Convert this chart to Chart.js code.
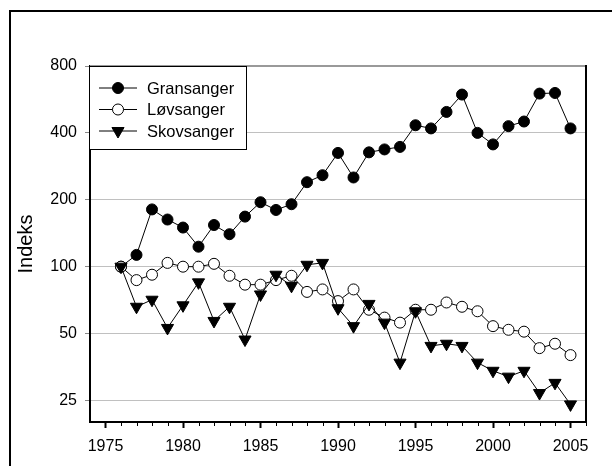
<!DOCTYPE html>
<html>
<head>
<meta charset="utf-8">
<script src="https://cdn.jsdelivr.net/npm/chart.js@4/dist/chart.umd.min.js"></script>
<style>
  html, body { margin: 0; padding: 0; background: #fff; }
  canvas { display: block; }
</style>
</head>
<body>
<canvas id="chart" width="612" height="466"></canvas>
<script>
const years = [1976, 1977, 1978, 1979, 1980, 1981, 1982, 1983, 1984, 1985,
               1986, 1987, 1988, 1989, 1990, 1991, 1992, 1993, 1994, 1995,
               1996, 1997, 1998, 1999, 2000, 2001, 2002, 2003, 2004, 2005];

const gransanger = [100, 113, 181, 163, 150, 123, 154, 140, 168, 195,
                    180, 191, 240, 258, 325, 252, 327, 337, 346, 433,
                    419, 497, 595, 400, 355, 429, 450, 601, 605, 419];

const lovsanger = [100, 87, 92, 104, 100, 100, 103, 91, 83, 83,
                   87, 91, 77, 79, 70, 79, 64, 59, 56, 64,
                   64, 69, 66, 63, 54, 52, 51, 43, 45, 40];

const skovsanger = [100, 66, 71, 53, 67, 85, 57, 66, 47, 75,
                    92, 82, 102, 104, 65, 54, 68, 56, 37, 63,
                    44, 45, 44, 37, 34, 32, 34, 27, 30, 24];

const xTicks = [1975, 1980, 1985, 1990, 1995, 2000, 2005];
const yTicks = [25, 50, 100, 200, 400, 800];

const FONT = "'Liberation Sans', Arial, sans-serif";

const toPoints = (vals) => vals.map((v, i) => ({ x: years[i], y: v }));

const series = (label, vals, style, order) => ({
    label,
    data: toPoints(vals),
    order,
    borderColor: "#000",
    borderWidth: 1,
    tension: 0,
    pointBorderColor: "#000",
    pointBorderWidth: 1,
    ...style
});

// frame, chart borders, minor ticks
const decor = {
    id: "decor",
    beforeDraw(chart) {
        const c = chart.ctx;
        c.save();
        c.fillStyle = "#fff";
        c.fillRect(0, 0, chart.width, chart.height);
        c.fillStyle = "#000";
        c.fillRect(9, 10, 2, chart.height - 10);
        c.fillRect(9, 10, chart.width - 9, 2);
        c.restore();
    },
    beforeDatasetsDraw(chart) {
        const c = chart.ctx;
        const a = chart.chartArea;
        c.save();
        c.fillStyle = "#999";
        c.fillRect(a.left, a.top - 1, a.right - a.left, 2);
        c.fillStyle = "#000";
        c.fillRect(a.right - 1, a.top - 1, 2, a.bottom - a.top + 2);

        // minor year ticks
        const xs = chart.scales.x;
        c.strokeStyle = "#000";
        c.lineWidth = 1;
        for (let yr = 1975; yr <= 2006; yr++) {
            if (yr % 5 === 0) continue;
            const px = Math.round(xs.getPixelForValue(yr)) + 0.5;
            c.beginPath();
            c.moveTo(px, a.bottom);
            c.lineTo(px, a.bottom + 4);
            c.stroke();
        }
        c.restore();
    },
    afterDraw(chart) {
        const c = chart.ctx;
        const bx = 89.5, by = 66.5, bw = 157, bh = 83;
        c.save();
        c.fillStyle = "#fff";
        c.fillRect(bx, by, bw, bh);
        c.strokeStyle = "#000";
        c.lineWidth = 1;
        c.strokeRect(bx, by, bw, bh);

        chart.data.datasets.forEach((ds, i) => {
            const y = 88 + i * 21.5;
            c.strokeStyle = "#000";
            c.lineWidth = 1;
            c.beginPath();
            c.moveTo(99, y);
            c.lineTo(137, y);
            c.stroke();

            c.fillStyle = ds.pointBackgroundColor;
            c.strokeStyle = "#000";
            Chart.helpers.drawPoint(c, {
                pointStyle: ds.pointStyle,
                radius: ds.pointRadius,
                rotation: ds.pointRotation || 0,
                borderWidth: 1
            }, 118, y);

            c.fillStyle = "#000";
            c.font = "16.5px " + FONT;
            c.textBaseline = "middle";
            c.textAlign = "left";
            c.fillText(ds.label, 147, y + 1);
        });
        c.restore();
    }
};

new Chart(document.getElementById("chart"), {
    type: "line",
    data: {
        datasets: [
            series("Gransanger", gransanger,
                { pointStyle: "circle", pointRadius: 5.5, pointBackgroundColor: "#000" }, 2),
            series("Løvsanger", lovsanger,
                { pointStyle: "circle", pointRadius: 5.5, pointBackgroundColor: "#fff" }, 1),
            series("Skovsanger", skovsanger,
                { pointStyle: "triangle", pointRadius: 7, pointRotation: 180, pointBackgroundColor: "#000" }, 0)
        ]
    },
    options: {
        responsive: false,
        animation: false,
        events: [],
        layout: { padding: { top: 66, right: 26, left: 0, bottom: 0 } },
        plugins: {
            legend: { display: false },
            tooltip: { enabled: false }
        },
        scales: {
            x: {
                type: "linear",
                min: 1974,
                max: 2006,
                afterBuildTicks: (s) => { s.ticks = xTicks.map(v => ({ value: v })); },
                afterFit: (s) => { s.height = 44; s.paddingLeft = 0; s.paddingRight = 0; },
                grid: { drawOnChartArea: false, tickLength: 6, tickWidth: 2, tickColor: "#000" },
                border: { color: "#000", width: 2 },
                ticks: {
                    color: "#000",
                    padding: 9,
                    maxRotation: 0,
                    font: { family: FONT, size: 16 },
                    callback: (v) => String(v)
                }
            },
            y: {
                type: "logarithmic",
                min: 20,
                max: 800,
                afterBuildTicks: (s) => { s.ticks = yTicks.map(v => ({ value: v })); },
                afterFit: (s) => { s.width = 90; s.paddingTop = 0; s.paddingBottom = 0; },
                grid: { color: "#c0c0c0", lineWidth: 1, tickLength: 5, tickColor: "#888" },
                border: { color: "#000", width: 2 },
                ticks: {
                    color: "#000",
                    padding: 8,
                    font: { family: FONT, size: 16 },
                    callback: (v) => String(v)
                },
                title: {
                    display: true,
                    text: "Indeks",
                    color: "#000",
                    font: { family: FONT, size: 20 },
                    padding: { top: 14, bottom: 0 }
                }
            }
        }
    },
    plugins: [decor]
});
</script>
</body>
</html>
